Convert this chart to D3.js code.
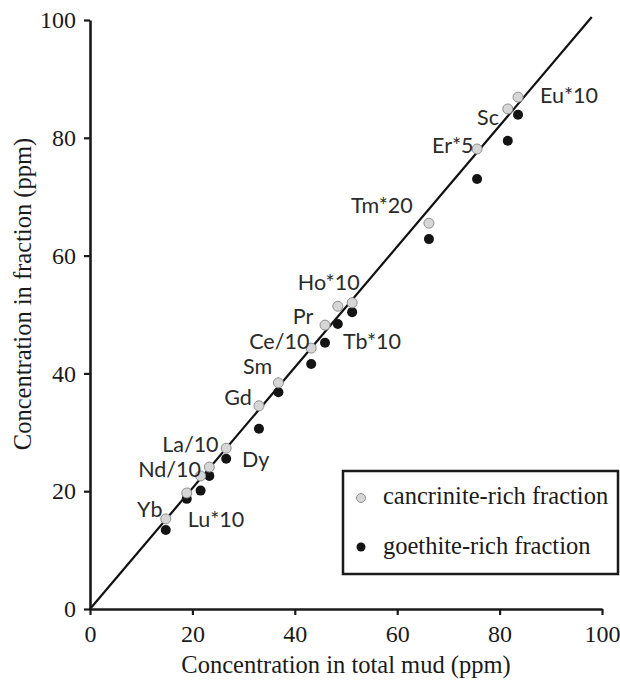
<!DOCTYPE html>
<html>
<head>
<meta charset="utf-8">
<script src="https://cdn.jsdelivr.net/npm/d3@7"></script>
<style>
  body { margin: 0; background: #fff; }
</style>
</head>
<body>
<script>
// scatter of REE concentrations, fraction vs total mud
var w = 620;
var h = 686;

// data
var totalMud   = [14.8, 18.9, 21.6, 23.3, 26.6, 33.0, 36.8, 43.2, 45.9, 48.4, 51.2, 66.2, 75.6, 81.6, 83.6];
var cancrinite = [15.3, 19.7, 22.6, 24.1, 27.3, 34.5, 38.4, 44.3, 48.2, 51.4, 52.0, 65.5, 78.1, 84.9, 86.9];
var goethite   = [13.4, 18.7, 20.1, 22.6, 25.5, 30.6, 36.8, 41.6, 45.2, 48.4, 50.4, 62.8, 73.0, 79.5, 83.9];
var lineX = [0, 98];
var lineY = [0, 100.5];
var xTicks = [0, 20, 40, 60, 80, 100];
var yTicks = [0, 20, 40, 60, 80, 100];
var seriesNames = ["cancrinite-rich fraction", "goethite-rich fraction"];

// element labels (text only)
var labelText = ["Yb", "Lu*10", "Nd/10", "La/10", "Dy", "Gd", "Sm", "Ce/10", "Tb*10", "Pr", "Ho*10", "Tm*20", "Er*5", "Sc", "Eu*10"];
// where each label sits, in axis units (layout)
var labelPos = [[9.2, 15.6], [19.1, 13.9], [9.4, 22.4], [14.1, 26.7], [29.7, 24.1], [26.2, 34.6], [29.9, 39.9],
                [31.1, 44.1], [49.4, 44.1], [39.6, 48.4], [40.6, 54.2], [51.0, 67.2], [66.8, 77.4], [75.6, 82.2], [87.9, 85.9]];

var svg = d3.select("body").append("svg")
            .attr("width", w)
            .attr("height", h);

var x = d3.scaleLinear().domain([0, 100]).range([90, 602]);
var y = d3.scaleLinear().domain([0, 100]).range([609, 20]);

var serif = "'Liberation Serif', 'Times New Roman', serif";
var lightFill = "#d6d6d6";
var lightStroke = "#8f8f8f";
var darkFill = "#141414";

// 1:1 line
svg.append("line")
  .attr("x1", x(lineX[0])).attr("y1", y(lineY[0]))
  .attr("x2", x(lineX[1])).attr("y2", y(lineY[1]))
  .attr("stroke", "#111")
  .attr("stroke-width", 2.2);

// axes
var xAxis = svg.append("g")
  .attr("transform", "translate(0," + y(0) + ")")
  .call(d3.axisBottom(x).tickValues(xTicks).tickSize(6).tickSizeOuter(0).tickPadding(10));

var yAxis = svg.append("g")
  .attr("transform", "translate(" + x(0) + ",0)")
  .call(d3.axisLeft(y).tickValues(yTicks).tickSize(6).tickSizeOuter(0).tickPadding(8));

[xAxis, yAxis].forEach(function(g) {
  g.select(".domain").attr("stroke", "#1a1a1a").attr("stroke-width", 2.6);
  g.selectAll(".tick line").attr("stroke", "#1a1a1a").attr("stroke-width", 2.2);
  g.selectAll(".tick text")
    .attr("font-family", serif)
    .attr("font-size", 24)
    .attr("fill", "#1a1a1a");
});

// points: goethite first then cancrinite on top
svg.selectAll("circle.goe")
  .data(totalMud)
  .enter()
  .append("circle")
  .attr("class", "goe")
  .attr("cx", function(d) { return x(d); })
  .attr("cy", function(d, i) { return y(goethite[i]); })
  .attr("r", 5)
  .attr("fill", darkFill);

svg.selectAll("circle.can")
  .data(totalMud)
  .enter()
  .append("circle")
  .attr("class", "can")
  .attr("cx", function(d) { return x(d); })
  .attr("cy", function(d, i) { return y(cancrinite[i]); })
  .attr("r", 5)
  .attr("fill", lightFill)
  .attr("stroke", lightStroke)
  .attr("stroke-width", 1);

// element labels
svg.selectAll("text.lab")
  .data(labelText)
  .enter()
  .append("text")
  .attr("class", "lab")
  .text(function(d) { return d; })
  .attr("x", function(d, i) { return x(labelPos[i][0]); })
  .attr("y", function(d, i) { return y(labelPos[i][1]); })
  .attr("font-family", "Lato, 'Open Sans', sans-serif")
  .attr("font-size", 21.5)
  .attr("fill", "#2a2a2a");

// axis titles
svg.append("text")
  .text("Concentration in total mud (ppm)")
  .attr("x", (x(0) + x(100)) / 2)
  .attr("y", 673)
  .attr("text-anchor", "middle")
  .attr("font-family", serif)
  .attr("font-size", 24.5)
  .attr("fill", "#1a1a1a");

svg.append("text")
  .text("Concentration in fraction (ppm)")
  .attr("transform", "translate(31,294) rotate(-90)")
  .attr("text-anchor", "middle")
  .attr("font-family", serif)
  .attr("font-size", 24.5)
  .attr("fill", "#1a1a1a");

// legend
var legend = svg.append("g");
legend.append("rect")
  .attr("x", 343).attr("y", 471)
  .attr("width", 275).attr("height", 103)
  .attr("fill", "#fff")
  .attr("stroke", "#1a1a1a")
  .attr("stroke-width", 2.5);

legend.selectAll("circle")
  .data(seriesNames)
  .enter()
  .append("circle")
  .attr("cx", 361)
  .attr("cy", function(d, i) { return 498 + i * 49; })
  .attr("r", 4.5)
  .attr("fill", function(d, i) { return i == 0 ? lightFill : darkFill; })
  .attr("stroke", function(d, i) { return i == 0 ? lightStroke : "none"; });

legend.selectAll("text")
  .data(seriesNames)
  .enter()
  .append("text")
  .text(function(d) { return d; })
  .attr("x", 383)
  .attr("y", function(d, i) { return 504 + i * 50; })
  .attr("font-family", serif)
  .attr("font-size", 24.5)
  .attr("fill", "#1a1a1a");
</script>
</body>
</html>
